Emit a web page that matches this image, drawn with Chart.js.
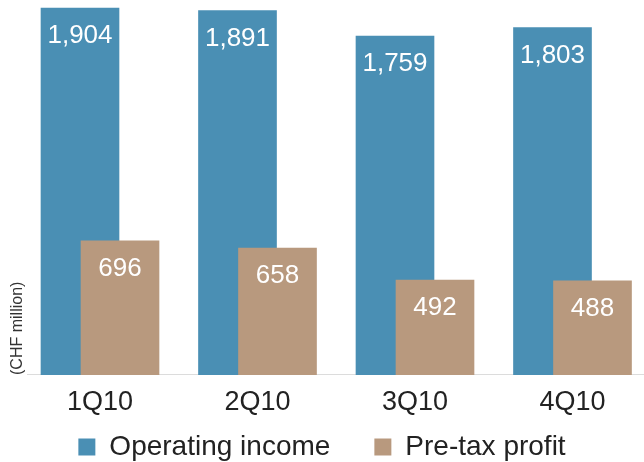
<!DOCTYPE html>
<html>
<head>
<meta charset="utf-8">
<script src="https://cdn.jsdelivr.net/npm/chart.js@4"></script>
<style>
  html, body { margin: 0; padding: 0; background: #fff; }
  #wrap { width: 644px; height: 462px; }
</style>
</head>
<body>
<div id="wrap"><canvas id="myChart"></canvas></div>
<script>
// Quarters along the x-axis
var quarters = ["1Q10", "2Q10", "3Q10", "4Q10"];
// CHF million
var operatingIncome = [1904, 1891, 1759, 1803];
var preTaxProfit = [696, 658, 492, 488];

var toPoints = function (arr) {
  return arr.map(function (v, i) { return { x: i, y: v }; });
};

var font = "'Liberation Sans', Arial, sans-serif";

// x range in category units, and how far each bar sits from the category centre
var xMin = -0.4635, xMax = 3.454, shift = 0.127;

// white value labels near the top of each bar
var barValues = {
  id: 'barValues',
  afterDatasetsDraw: function (chart) {
    var ctx = chart.ctx;
    ctx.save();
    ctx.fillStyle = '#ffffff';
    ctx.font = '26px ' + font;
    ctx.textAlign = 'center';
    ctx.textBaseline = 'middle';
    chart.data.datasets.forEach(function (ds, di) {
      chart.getDatasetMeta(di).data.forEach(function (bar, i) {
        ctx.fillText(ds.data[i].y.toLocaleString('en-US'), bar.x, bar.y + 28);
      });
    });
    ctx.restore();
  }
};

var hiddenX = function (offset) {
  return { type: 'linear', display: false, offset: false, min: xMin + offset, max: xMax + offset };
};

var ctx = document.getElementById("myChart");
var myChart = new Chart(ctx, {
  type: 'bar',
  data: {
    datasets: [
      {
        data: toPoints(operatingIncome),
        label: "Operating income",
        backgroundColor: "#4a8fb4",
        xAxisID: 'xb',
        order: 1
      },
      {
        data: toPoints(preTaxProfit),
        label: "Pre-tax profit",
        backgroundColor: "#b8997e",
        xAxisID: 'xt',
        order: 0   // drawn on top of the blue bars
      }
    ]
  },
  options: {
    responsive: true,
    maintainAspectRatio: false,
    animation: false,
    grouped: false,
    barThickness: 78,
    layout: { padding: { top: 0, right: 0, bottom: -9, left: 0 } },
    plugins: {
      tooltip: { enabled: false },
      legend: {
        position: 'bottom',
        labels: {
          boxWidth: 17,
          boxHeight: 17,
          padding: 2,
          color: '#222',
          font: { family: font, size: 28 },
          generateLabels: function (chart) {
            var items = Chart.defaults.plugins.legend.labels.generateLabels(chart);
            items.sort(function (a, b) { return a.datasetIndex - b.datasetIndex; });
            items.forEach(function (item, i) {
              if (i < items.length - 1) item.text += '\u2003\u2002';
            });
            return items;
          }
        }
      }
    },
    scales: {
      x: {
        type: 'linear',
        offset: false,
        min: xMin,
        max: xMax,
        grid: { display: false, drawTicks: false },
        border: { display: true, color: '#dcdcdc', width: 1 },
        afterBuildTicks: function (scale) {
          scale.ticks = quarters.map(function (q, i) { return { value: i }; });
        },
        ticks: {
          autoSkip: false,
          maxRotation: 0,
          padding: 21,
          color: '#222',
          font: { family: font, size: 27, lineHeight: 0.52 },
          callback: function (value) { return quarters[value]; }
        }
      },
      xb: hiddenX(shift),
      xt: hiddenX(-shift),
      y: {
        min: 0,
        max: 1946,
        grid: { display: false, drawTicks: false },
        border: { display: false },
        ticks: { display: false },
        title: {
          display: true,
          text: '(CHF million)',
          align: 'start',
          color: '#333',
          padding: { top: 9, bottom: 0 },
          font: { family: font, size: 16, lineHeight: 1.125 }
        }
      }
    }
  },
  plugins: [barValues]
});
</script>
</body>
</html>
